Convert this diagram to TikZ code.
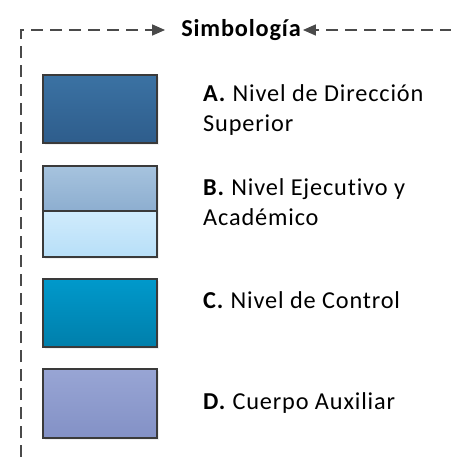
\documentclass[tikz,border=0pt]{standalone}
\usepackage{fontspec}
\setmainfont{Carlito}[LetterSpace=3.5, Ligatures=NoCommon]
\usetikzlibrary{arrows.meta,shadows}
\definecolor{frame}{HTML}{4A4A4A}
\definecolor{edge}{HTML}{3A3A3A}
\definecolor{aTop}{HTML}{3B72A3}
\definecolor{aBot}{HTML}{2E5D8C}
\definecolor{bTop}{HTML}{A6C3DE}
\definecolor{bMid}{HTML}{8DAED0}
\definecolor{bLo}{HTML}{D0EBFC}
\definecolor{bBot}{HTML}{B7DFF8}
\definecolor{cTop}{HTML}{0099CB}
\definecolor{cBot}{HTML}{007FAB}
\definecolor{dTop}{HTML}{98A5D4}
\definecolor{dBot}{HTML}{8391C6}
\tikzset{
  legbox/.style={draw=edge, line width=1.4pt, minimum width=114pt, inner sep=0pt, drop shadow={shadow xshift=2pt, shadow yshift=-2pt, opacity=0.12}},
  legtext/.style={anchor=west, align=left, inner sep=0pt, font=\fontsize{24.3}{30}\selectfont, text=black},
  dashline/.style={draw=frame, line width=1.6pt, dash pattern=on 12pt off 7pt, -{Triangle[length=13pt,width=11pt]}},
}
\begin{document}
\begin{tikzpicture}[x=1pt,y=-1pt]
\useasboundingbox (0,0) rectangle (450,457);
% title
\node[inner sep=0pt, font=\fontsize{24.3}{28}\selectfont\bfseries] (title) at (241,30) {Simbología};
\coordinate (lstart) at (21,457);
\coordinate (corner) at (21,30);
\coordinate (rstart) at (452,30);
\draw[dashline] (lstart) -- (corner) -- ([xshift=-16pt]title.west);
\draw[dashline] (rstart) -- ([xshift=2pt]title.east);
% boxes
\node[legbox, minimum height=68pt, top color=aTop, bottom color=aBot] (boxA) at (100,109) {};
\node[legbox, minimum height=45pt, top color=bTop, bottom color=bMid] (boxB1) at (100,188.5) {};
\node[legbox, minimum height=46pt, top color=bLo, bottom color=bBot] (boxB2) at (100,234) {};
\node[legbox, minimum height=68pt, top color=cTop, bottom color=cBot] (boxC) at (100,313) {};
\node[legbox, minimum height=69pt, top color=dTop, bottom color=dBot] (boxD) at (100,403.5) {};
% texts
\node[legtext] (tA) at (203,110) {\textbf{A.} Nivel de Dirección\\Superior};
\node[legtext] (tB) at (203,202) {\textbf{B.} Nivel Ejecutivo y\\Académico};
\node[legtext] (tC) at (203,300) {\textbf{C.} Nivel de Control};
\node[legtext] (tD) at (203,403) {\textbf{D.} Cuerpo Auxiliar};
\end{tikzpicture}
\end{document}
